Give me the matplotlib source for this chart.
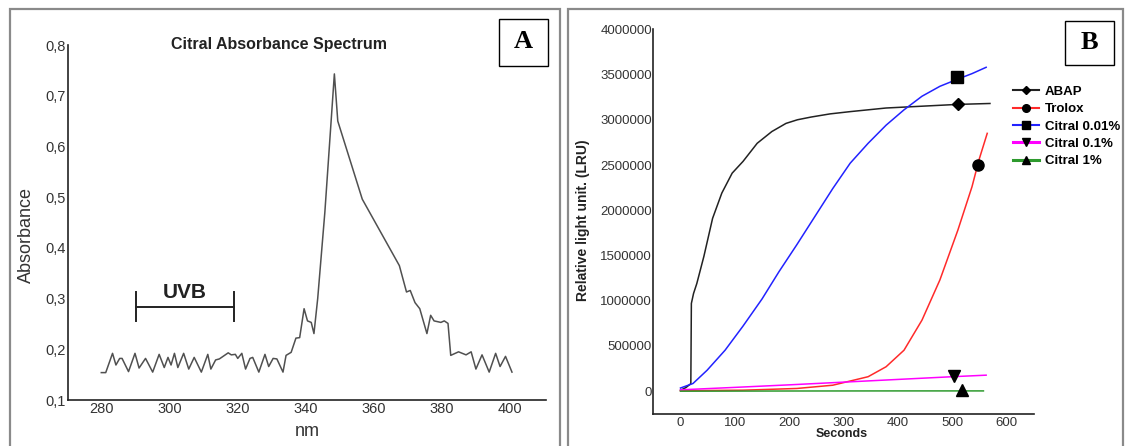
import matplotlib
matplotlib.use("Agg")
import matplotlib.pyplot as plt
from matplotlib.lines import Line2D
from matplotlib.patches import Rectangle

plt.rcParams['font.family'] = ['Liberation Sans', 'DejaVu Sans']

# --- panel A : citral absorbance spectrum ---
nm = [279.9, 281.2, 283.2, 284.2, 285.3, 286.0, 287.9, 289.8, 291.0, 292.9, 295.0, 296.9,
      298.4, 299.5, 300.4, 301.4, 302.4, 304.1, 305.6, 307.2, 309.3, 311.2, 312.1, 313.5,
      314.6, 317.2, 318.1, 319.3, 320.0, 321.2, 322.3, 323.6, 324.4, 326.2, 328.0, 329.1,
      330.4, 331.5, 333.3, 334.2, 335.7, 337.1, 338.2, 339.5, 340.5, 341.6, 342.4, 343.5,
      345.6, 348.4, 349.4, 356.6, 367.5, 369.6, 370.7, 372.1, 373.5, 375.6, 376.7, 377.7,
      379.7, 380.7, 381.8, 382.6, 384.9, 387.1, 388.6, 390.0, 391.8, 393.9, 395.8, 397.1,
      398.7, 400.6]
absorb = [0.154, 0.154, 0.192, 0.169, 0.182, 0.182, 0.156, 0.192, 0.163, 0.182, 0.155, 0.190,
          0.164, 0.184, 0.169, 0.192, 0.164, 0.192, 0.161, 0.184, 0.155, 0.190, 0.161, 0.179,
          0.181, 0.193, 0.189, 0.190, 0.182, 0.192, 0.161, 0.182, 0.184, 0.155, 0.190, 0.166,
          0.182, 0.181, 0.155, 0.188, 0.194, 0.222, 0.223, 0.280, 0.256, 0.253, 0.231, 0.300,
          0.470, 0.743, 0.650, 0.496, 0.365, 0.313, 0.316, 0.292, 0.280, 0.231, 0.267, 0.256,
          0.253, 0.256, 0.251, 0.188, 0.195, 0.189, 0.195, 0.161, 0.189, 0.155, 0.192, 0.166,
          0.186, 0.155]
uvb_range = [290, 319]
a_xticks = [280, 300, 320, 340, 360, 380, 400]
a_yticks = [0.1, 0.2, 0.3, 0.4, 0.5, 0.6, 0.7, 0.8]
a_ylabels = ['0,1', '0,2', '0,3', '0,4', '0,5', '0,6', '0,7', '0,8']

# --- panel B : chemiluminescence kinetics ---
abap_t = [0, 10, 19, 20, 24, 30, 43, 59, 76, 95, 115, 141, 168, 194, 215, 240, 275, 312, 378,
          444, 510, 569]
abap_v = [10e3, 40e3, 83e3, 970e3, 1.08e6, 1.19e6, 1.49e6, 1.91e6, 2.19e6, 2.41e6, 2.54e6,
          2.74e6, 2.87e6, 2.96e6, 3.0e6, 3.03e6, 3.065e6, 3.09e6, 3.13e6, 3.15e6, 3.17e6, 3.18e6]
trolox_t = [0, 115, 214, 280, 345, 378, 411, 444, 477, 510, 536, 549, 564]
trolox_v = [5e3, 11e3, 30e3, 66e3, 160e3, 270e3, 453e3, 785e3, 1.23e6, 1.78e6, 2.26e6, 2.56e6, 2.85e6]
c001_t = [0, 23, 49, 82, 115, 150, 181, 214, 247, 280, 312, 345, 378, 411, 444, 477, 510, 536, 562]
c001_v = [35e3, 85e3, 232e3, 453e3, 720e3, 1.02e6, 1.32e6, 1.62e6, 1.93e6, 2.24e6, 2.52e6,
          2.74e6, 2.94e6, 3.11e6, 3.26e6, 3.37e6, 3.45e6, 3.51e6, 3.58e6]
c01_t = [0, 100, 200, 300, 400, 500, 562]
c01_v = [15e3, 42e3, 70e3, 100e3, 130e3, 160e3, 177e3]
c1_t = [0, 200, 400, 557]
c1_v = [0, 2e3, 3e3, 3e3]
series = ['ABAP', 'Trolox', 'Citral 0.01%', 'Citral 0.1%', 'Citral 1%']
colors = ['#222222', '#ff2a2a', '#2222ff', '#ff00ff', '#2e9a2e']
markers = ['D', 'o', 's', 'v', '^']
marker_t = [510, 547, 508, 503, 518]
marker_v = [3.17e6, 2.50e6, 3.47e6, 170e3, 15e3]
b_xticks = [0, 100, 200, 300, 400, 500, 600]
b_yticks = [0, 500000, 1000000, 1500000, 2000000, 2500000, 3000000, 3500000, 4000000]

W, H = 1125, 446


def fx(x):
    return x / W


def fy(y):
    return 1 - y / H


fig = plt.figure(figsize=(11.25, 4.46), dpi=100)

# panel frames
for x0, x1 in [(10, 560), (568, 1123)]:
    fig.add_artist(Rectangle((fx(x0), fy(470)), fx(x1 - x0), (470 - 9) / H,
                             transform=fig.transFigure, fill=False,
                             edgecolor='#8a8a8a', lw=1.6, clip_on=False))

# ---------------- A ----------------
axA = fig.add_axes([fx(68.3), fy(400), fx(546 - 68.3), (400 - 45) / H])
axA.plot(nm, absorb, color='#505050', lw=1.1)
axA.set_xlim(270.2, 410.6)
axA.set_ylim(0.1, 0.8)
axA.set_xticks(a_xticks)
axA.set_yticks(a_yticks)
axA.set_yticklabels(a_ylabels)
axA.tick_params(length=0, labelsize=10.5, labelcolor='#333333')
axA.tick_params(axis='x', pad=1.5)
axA.tick_params(axis='y', pad=1.5)
for s in ['top', 'right']:
    axA.spines[s].set_visible(False)
for s in ['left', 'bottom']:
    axA.spines[s].set_linewidth(1.2)
    axA.spines[s].set_color('#222222')

# UVB bar
axA.plot(uvb_range, [0.284, 0.284], color='#222222', lw=1.4)
for u in uvb_range:
    axA.plot([u, u], [0.256, 0.313], color='#222222', lw=1.4)
axA.text(sum(uvb_range) / 2, 0.293, 'UVB', ha='center', va='bottom',
         fontsize=15, fontweight='bold', color='#222222')

fig.text(fx(278.6), fy(44), 'Citral Absorbance Spectrum', ha='center', va='center',
         fontsize=11.5, fontweight='bold', color='#222222')
fig.text(fx(26.7), fy(235), 'Absorbance', rotation=90, ha='center', va='center',
         fontsize=13, color='#333333')
fig.text(fx(307), fy(431), 'nm', ha='center', va='center', fontsize=13, color='#333333')

# ---------------- B ----------------
axB = fig.add_axes([fx(653.3), fy(413.8), fx(1034 - 653.3), (413.8 - 29.3) / H])
data = [(abap_t, abap_v), (trolox_t, trolox_v), (c001_t, c001_v), (c01_t, c01_v), (c1_t, c1_v)]
for (t, v), c in zip(data, colors):
    axB.plot(t, v, color=c, lw=1.1)
for t, v, m in zip(marker_t, marker_v, markers):
    ms = 6 if m == 'D' else 8
    axB.plot([t], [v], marker=m, color='black', ms=ms, ls='none')
axB.set_xlim(-50, 650)
axB.set_ylim(-250000, 4000000)
axB.set_xticks(b_xticks)
axB.set_yticks(b_yticks)
axB.set_yticklabels([str(v) for v in b_yticks])
axB.tick_params(length=0, labelsize=9.5, labelcolor='#333333')
axB.tick_params(axis='x', pad=2.5)
axB.tick_params(axis='y', pad=1)
for s in ['top', 'right']:
    axB.spines[s].set_visible(False)
for s in ['left', 'bottom']:
    axB.spines[s].set_linewidth(1.2)
    axB.spines[s].set_color('#222222')

fig.text(fx(841.8), fy(434.3), 'Seconds', ha='center', va='center',
         fontsize=9, fontweight='bold', color='#222222')
fig.text(fx(582.9), fy(220), 'Relative light unit. (LRU)', rotation=90, ha='center',
         va='center', fontsize=10, fontweight='bold', color='#222222')

handles = []
for name, c, m in zip(series, colors, markers):
    lw = 2.2 if name in ('Citral 0.1%', 'Citral 1%') else 1.5
    handles.append(Line2D([], [], color=c, lw=lw, marker=m, mfc='black', mec='black',
                          ms=4.5 if m == 'D' else 5.5, label=name))
fig.legend(handles=handles, loc='upper left', bbox_to_anchor=(fx(1013), fy(85.5)),
           frameon=False, borderpad=0, borderaxespad=0, handlelength=1.97,
           handletextpad=0.45, labelspacing=0.39,
           prop={'size': 9.5, 'weight': 'bold'})

# panel letters
for label, (x0, y0, x1, y1) in [('A', (499, 18.5, 548, 65.5)), ('B', (1065, 20.7, 1114, 65))]:
    fig.add_artist(Rectangle((fx(x0), fy(y1)), fx(x1 - x0), (y1 - y0) / H,
                             transform=fig.transFigure, fill=False, edgecolor='black', lw=1.0))
    fig.text(fx((x0 + x1) / 2), fy((y0 + y1) / 2), label, ha='center', va='center',
             fontsize=19, fontweight='bold', family='Liberation Serif', color='black')

fig.savefig('out.png', dpi=100)
